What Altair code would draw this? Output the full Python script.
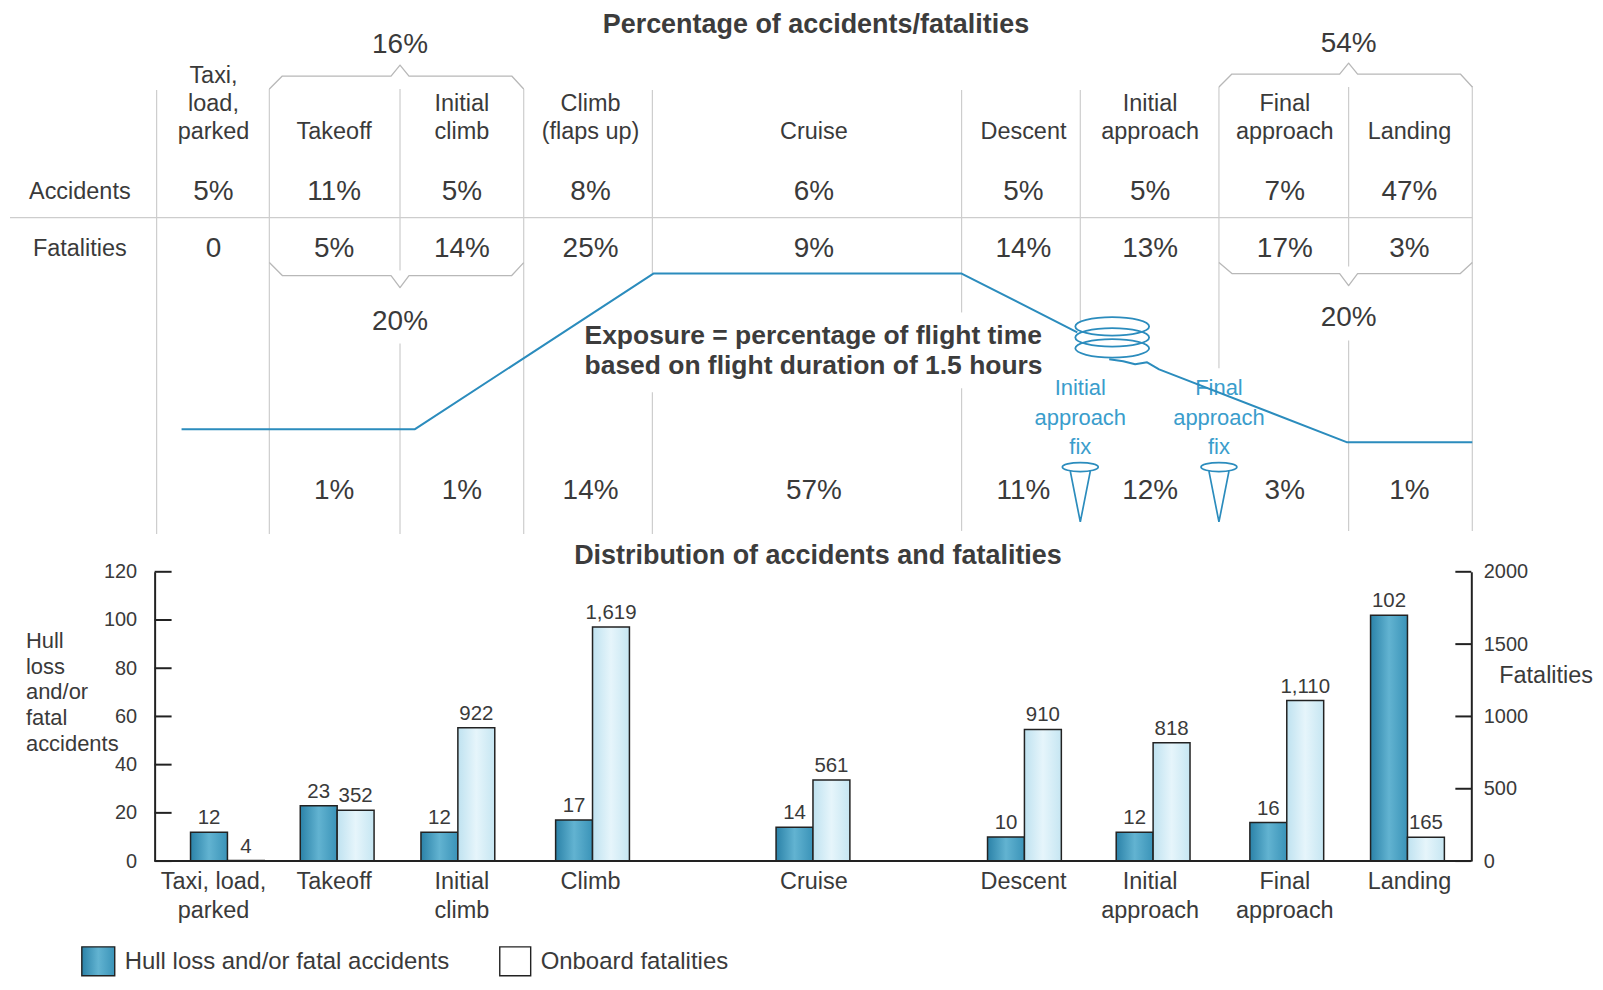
import altair as alt
import pandas as pd

# ---------------- data ----------------
phase_top = ["Taxi,\nload,\nparked", "Takeoff", "Initial\nclimb", "Climb\n(flaps up)",
             "Cruise", "Descent", "Initial\napproach", "Final\napproach", "Landing"]
phase_bottom = ["Taxi, load,\nparked", "Takeoff", "Initial\nclimb", "Climb",
                "Cruise", "Descent", "Initial\napproach", "Final\napproach", "Landing"]
accident_pct = ["5%", "11%", "5%", "8%", "6%", "5%", "5%", "7%", "47%"]
fatality_pct = ["0", "5%", "14%", "25%", "9%", "14%", "13%", "17%", "3%"]
exposure_pct = ["", "1%", "1%", "14%", "57%", "11%", "12%", "3%", "1%"]
accidents = [12, 23, 12, 17, 14, 10, 12, 16, 102]
fatalities = [4, 352, 922, 1619, 561, 910, 818, 1110, 165]
group_acc = ["16%", "54%"]
group_fat = ["20%", "20%"]
acc_ticks = [0, 20, 40, 60, 80, 100, 120]
fat_ticks = [0, 500, 1000, 1500, 2000]
fix_labels = ["Initial\napproach\nfix", "Final\napproach\nfix"]

# ---------------- layout / style ----------------
FONT = "Liberation Sans, Arial, Helvetica, sans-serif"
TXT = "#3a3a3a"
GRID = "#cdcdcd"
BRK = "#b8b8b8"
BLUE = "#2b8cbd"
BLUE_T = "#3a9dcc"
AX = "#222222"

X0, X1, Y0, Y1 = 155, 1475, 572, 862
W, H = X1 - X0, Y1 - Y0
col_edges = [157, 270, 401, 525, 654, 964, 1083, 1222, 1352, 1476]
col_x = [214, 335, 463, 592, 816, 1026, 1153, 1288, 1413]
bar_x = [228, 338, 459, 594, 815, 1027, 1156, 1290, 1411]
ROW_HEAD, ROW_ACC, ROW_FAT, ROW_EXP = 131, 191, 248, 491
BAR_W = 37

xs = alt.Scale(domain=[X0, X1], nice=False, zero=False)
ypx = alt.Scale(domain=[Y0, Y1], reverse=True, nice=False, zero=False)
ya = alt.Scale(domain=[0, 120], nice=False, zero=True)
yf = alt.Scale(domain=[0, 2000], nice=False, zero=True)


def XQ(f="x"):
    return alt.X(f"{f}:Q", scale=xs, axis=None)


def text_layer(rows, size, color=TXT, weight="normal", align="center", lh=None, baseline="middle"):
    df = pd.DataFrame(rows, columns=["x", "y", "t"])
    kw = dict(font=FONT, fontSize=size, color=color, fontWeight=weight, align=align,
              baseline=baseline, lineBreak="\n")
    if lh:
        kw["lineHeight"] = lh
    return alt.Chart(df).mark_text(**kw).encode(
        x=XQ(), y=alt.Y("y:Q", scale=ypx, axis=None), text="t:N")


def rule_layer(rows, color, width):
    df = pd.DataFrame(rows, columns=["x", "y", "x2", "y2"])
    return alt.Chart(df).mark_rule(color=color, strokeWidth=width).encode(
        x=XQ(), y=alt.Y("y:Q", scale=ypx, axis=None), x2="x2:Q", y2="y2:Q")


def poly_layer(polys, color, width):
    rows = []
    for i, pts in enumerate(polys):
        for k, (x, y) in enumerate(pts):
            rows.append((i, k, x, y))
    df = pd.DataFrame(rows, columns=["id", "k", "x", "y"])
    return alt.Chart(df).mark_line(color=color, strokeWidth=width, strokeJoin="round").encode(
        x=XQ(), y=alt.Y("y:Q", scale=ypx, axis=None), detail="id:N", order="k:Q")


def nlines(s):
    return s.count("\n") + 1


# ---------------- top table ----------------
vseg = {157: [(89, 534)], 270: [(88, 534)], 401: [(88, 270), (343, 534)],
        525: [(88, 534)], 654: [(89, 273), (392, 534)], 964: [(89, 312), (388, 531)],
        1083: [(89, 322)], 1222: [(86, 368)], 1352: [(86, 266), (340, 531)],
        1476: [(85, 531)]}
vrows = [(x, a, x, b) for x, segs in vseg.items() for a, b in segs]
grid_v = rule_layer(vrows, GRID, 1.2)
grid_h = rule_layer([(10, 217, 1476, 217)], GRID, 1.2)


def bracket(xl, xm, xr, y_edge, y_flat, y_tip):
    return [(xl, y_edge), (xl + 13, y_flat), (xm - 9, y_flat), (xm, y_tip),
            (xm + 9, y_flat), (xr - 12, y_flat), (xr, y_edge)]


brackets = poly_layer([
    bracket(col_edges[1], col_edges[2], col_edges[3], 88, 75, 64),
    bracket(col_edges[1], col_edges[2], col_edges[3], 262, 275, 287),
    bracket(col_edges[7], col_edges[8], col_edges[9], 86, 73, 62),
    bracket(col_edges[7], col_edges[8], col_edges[9], 262, 273, 285),
], BRK, 1.3)

titles = text_layer([(818, 24, "Percentage of accidents/fatalities"),
                     (820, 556, "Distribution of accidents and fatalities")],
                    27, color="#3c3c3c", weight="bold")
exposure_note = text_layer([(586, 336, "Exposure = percentage of flight time\nbased on flight duration of 1.5 hours")],
                           26.5, color="#3c3c3c", weight="bold", align="left", lh=30)

head = text_layer([(col_x[i], ROW_HEAD - (nlines(s) - 1) * 28, s) for i, s in enumerate(phase_top)],
                  23.5, lh=28)
row_lab = text_layer([(80, ROW_ACC, "Accidents"), (80, ROW_FAT, "Fatalities")], 23.5)
vals = []
for i in range(9):
    vals.append((col_x[i], ROW_ACC, accident_pct[i]))
    vals.append((col_x[i], ROW_FAT, fatality_pct[i]))
    if exposure_pct[i]:
        vals.append((col_x[i], ROW_EXP, exposure_pct[i]))
vals += [(col_edges[2], 44, group_acc[0]), (col_edges[8], 43, group_acc[1]),
         (col_edges[2], 322, group_fat[0]), (col_edges[8], 318, group_fat[1])]
values = text_layer(vals, 28)

fix_text = text_layer([(col_edges[6], 388, fix_labels[0]), (col_edges[7], 388, fix_labels[1])],
                      22, color=BLUE_T, lh=29.5)

exposure_line = poly_layer([
    [(182, 429), (416, 429), (655, 273), (964, 273), (1080, 332)],
    [(1112, 359), (1126, 361), (1138, 364), (1150, 362), (1162, 369), (1350, 442), (1476, 442)],
], BLUE, 2)

ELLIPSE = "M -1 0 A 1 0.25 0 1 0 1 0 A 1 0.25 0 1 0 -1 0"
spiral = alt.Chart(pd.DataFrame({"x": [1115, 1115, 1115], "y": [326, 337, 348]})).mark_point(
    shape=ELLIPSE, size=74 * 74, filled=False, stroke=BLUE, strokeWidth=1.8, opacity=1).encode(
    x=XQ(), y=alt.Y("y:Q", scale=ypx, axis=None))

PIN = ("M -0.6 -0.767 A 0.6 0.15 0 1 0 0.6 -0.767 A 0.6 0.15 0 1 0 -0.6 -0.767 "
       "M -0.333 -0.62 L 0 1.067 L 0.333 -0.62")
pins = alt.Chart(pd.DataFrame({"x": [col_edges[6], col_edges[7]], "y": [490, 490]})).mark_point(
    shape=PIN, size=3600, filled=False, stroke=BLUE, strokeWidth=1.7, opacity=1).encode(
    x=XQ(), y=alt.Y("y:Q", scale=ypx, axis=None))

# ---------------- bottom chart texts ----------------
xlab = text_layer([(col_x[i], 883, s) for i, s in enumerate(phase_bottom)], 23.5, lh=29)
ytitle = text_layer([(26, 641, "Hull\nloss\nand/or\nfatal\naccidents")], 22, align="left", lh=26)
ytitle_r = text_layer([(1503, 676, "Fatalities")], 23.5, align="left")

acc_fill = {"gradient": "linear", "x1": 0, "x2": 1, "y1": 0, "y2": 0,
            "stops": [{"offset": 0, "color": "#2b82a8"}, {"offset": 0.5, "color": "#62b3d1"},
                      {"offset": 1, "color": "#3a93b8"}]}
fat_fill = {"gradient": "linear", "x1": 0, "x2": 1, "y1": 0, "y2": 0,
            "stops": [{"offset": 0, "color": "#bfe2f0"}, {"offset": 0.5, "color": "#e6f5fb"},
                      {"offset": 1, "color": "#c6e6f2"}]}

# legend
leg_df1 = pd.DataFrame({"x": [82], "x2": [115], "y": [948], "y2": [977]})
leg_df2 = pd.DataFrame({"x": [501], "x2": [532], "y": [948], "y2": [977]})
leg1 = alt.Chart(leg_df1).mark_rect(fill=acc_fill, stroke=AX, strokeWidth=1.4).encode(
    x=XQ(), x2="x2:Q", y=alt.Y("y:Q", scale=ypx, axis=None), y2="y2:Q")
leg2 = alt.Chart(leg_df2).mark_rect(fill="white", stroke=AX, strokeWidth=1.4).encode(
    x=XQ(), x2="x2:Q", y=alt.Y("y:Q", scale=ypx, axis=None), y2="y2:Q")
leg_text = text_layer([(125, 963, "Hull loss and/or fatal accidents"), (542, 963, "Onboard fatalities")],
                      24, align="left")

px_under = alt.layer(grid_v, grid_h, brackets, titles, exposure_note, head, row_lab, values,
                     fix_text, exposure_line, spiral, pins, xlab, ytitle, ytitle_r,
                     leg1, leg2, leg_text)

# ---------------- bars ----------------
bars_df = pd.DataFrame({
    "phase": phase_bottom,
    "acc": accidents,
    "fat": fatalities,
    "cx": bar_x,
})
bars_df["a_x"] = bars_df["cx"] - BAR_W
bars_df["a_m"] = bars_df["cx"] - BAR_W / 2
bars_df["f_x2"] = bars_df["cx"] + BAR_W
bars_df["f_m"] = bars_df["cx"] + BAR_W / 2
bars_df["zero"] = 0

acc_bars = alt.Chart(bars_df).mark_rect(fill=acc_fill, stroke=AX, strokeWidth=1.5).encode(
    x=XQ("a_x"), x2="cx:Q",
    y=alt.Y("acc:Q", scale=ya, axis=alt.Axis(
        orient="left", values=acc_ticks, ticks=False, domain=True, domainColor=AX, domainWidth=2,
        labelFont=FONT, labelFontSize=20, labelColor=TXT, labelPadding=18, grid=False, title=None)),
    y2="zero:Q")
acc_lab = alt.Chart(bars_df).mark_text(font=FONT, fontSize=20.5, color=TXT, dy=-14).encode(
    x=XQ("a_m"), y=alt.Y("acc:Q", scale=ya), text="acc:Q")
acc_tick_df = pd.DataFrame({"t": acc_ticks, "x": X0, "x2": X0 + 17})
acc_tk = alt.Chart(acc_tick_df).mark_rule(color=AX, strokeWidth=2).encode(
    x=XQ(), x2="x2:Q", y=alt.Y("t:Q", scale=ya))
acc_layer = alt.layer(acc_bars, acc_lab, acc_tk)

fat_bars = alt.Chart(bars_df).mark_rect(fill=fat_fill, stroke=AX, strokeWidth=1.5).encode(
    x=XQ("cx"), x2="f_x2:Q",
    y=alt.Y("fat:Q", scale=yf, axis=alt.Axis(
        orient="right", values=fat_ticks, format="d", ticks=False, domain=True, domainColor=AX,
        domainWidth=2, labelFont=FONT, labelFontSize=20, labelColor=TXT, labelPadding=12,
        grid=False, title=None)),
    y2="zero:Q")
fat_lab = alt.Chart(bars_df).mark_text(font=FONT, fontSize=20.5, color=TXT, dy=-14).encode(
    x=XQ("f_m"), y=alt.Y("fat:Q", scale=yf), text=alt.Text("fat:Q", format=","))
fat_tick_df = pd.DataFrame({"t": fat_ticks, "x": X1 - 16, "x2": X1})
fat_tk = alt.Chart(fat_tick_df).mark_rule(color=AX, strokeWidth=2).encode(
    x=XQ(), x2="x2:Q", y=alt.Y("t:Q", scale=yf))
fat_layer = alt.layer(fat_bars, fat_lab, fat_tk)

baseline = rule_layer([(X0, Y1, X1, Y1)], AX, 2)
px_over = alt.layer(baseline)

chart = alt.layer(px_under, acc_layer, fat_layer, px_over).resolve_scale(
    y="independent"
).properties(
    width=W, height=H,
    padding={"left": 147, "top": 564, "right": 124, "bottom": 116},
    autosize=alt.AutoSizeParams(type="none"),
    background="white",
).configure_view(stroke=None)

chart.save("out.html", embed_options={"renderer": "svg", "actions": False})
